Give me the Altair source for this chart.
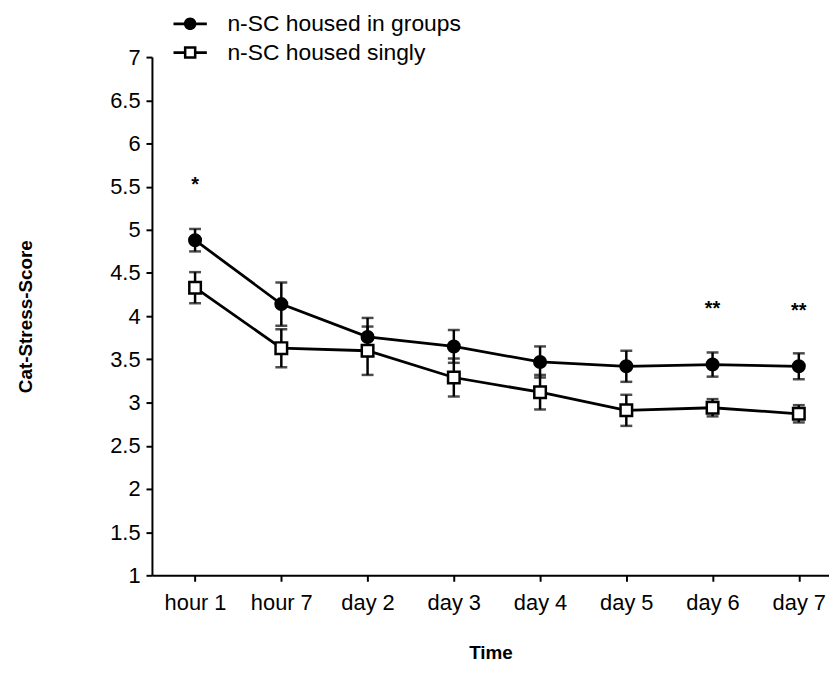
import json
import altair as alt
import pandas as pd

# ---- data ----
categories = ["hour 1", "hour 7", "day 2", "day 3", "day 4", "day 5", "day 6", "day 7"]
series_names = ["n-SC housed in groups", "n-SC housed singly"]
group_mean = [4.88, 4.14, 3.76, 3.65, 3.47, 3.42, 3.44, 3.42]
group_err = [0.13, 0.25, 0.22, 0.19, 0.18, 0.18, 0.14, 0.15]
single_mean = [4.33, 3.63, 3.60, 3.29, 3.12, 2.91, 2.94, 2.87]
single_err = [0.18, 0.22, 0.28, 0.22, 0.20, 0.18, 0.10, 0.10]
sig_text = ["*", "", "", "", "", "", "**", "**"]
sig_y = [5.56, None, None, None, None, None, 4.13, 4.10]
y_ticks = [1, 1.5, 2, 2.5, 3, 3.5, 4, 4.5, 5, 5.5, 6, 6.5, 7]

FONT = "Liberation Sans"

rows = []
for i, cat in enumerate(categories):
    rows.append({"idx": i, "time": cat, "series": series_names[0],
                 "mean": group_mean[i], "err": group_err[i]})
    rows.append({"idx": i, "time": cat, "series": series_names[1],
                 "mean": single_mean[i], "err": single_err[i]})
df = pd.DataFrame(rows)
df["lo"] = df["mean"] - df["err"]
df["hi"] = df["mean"] + df["err"]

sig_df = pd.DataFrame({"idx": list(range(len(categories))), "text": sig_text, "y": sig_y}).dropna()

label_expr = json.dumps(categories) + "[datum.value]"

x_enc = alt.X("idx:Q",
              scale=alt.Scale(domain=[-0.5, 7.35], nice=False, zero=False),
              axis=alt.Axis(values=list(range(len(categories))), labelExpr=label_expr,
                            title="Time", grid=False, titleY=69))
y_scale = alt.Scale(domain=[1, 7], nice=False, zero=False)
y_enc = alt.Y("mean:Q", scale=y_scale,
              axis=alt.Axis(values=y_ticks, format="~g", title="Cat-Stress-Score",
                            grid=False, titleX=-127, titleBaseline="middle"))

base = alt.Chart(df)

lines = base.mark_line(color="black", strokeWidth=2.8).encode(
    x=x_enc, y=y_enc, detail="series:N")

rules = base.mark_rule(color="black", strokeWidth=2.5).encode(
    x="idx:Q", y=alt.Y("lo:Q", scale=y_scale), y2="hi:Q")

cap_lo = base.mark_tick(color="black", orient="horizontal", size=12, thickness=2.5).encode(
    x="idx:Q", y=alt.Y("lo:Q", scale=y_scale))
cap_hi = base.mark_tick(color="black", orient="horizontal", size=12, thickness=2.5).encode(
    x="idx:Q", y=alt.Y("hi:Q", scale=y_scale))

pts_group = base.transform_filter(alt.datum.series == series_names[0]).mark_point(
    shape="circle", filled=True, color="black", size=200, opacity=1).encode(
    x="idx:Q", y=alt.Y("mean:Q", scale=y_scale))

pts_single = base.transform_filter(alt.datum.series == series_names[1]).mark_point(
    shape="square", filled=True, fill="white", stroke="black", strokeWidth=2.5,
    size=135, opacity=1).encode(
    x="idx:Q", y=alt.Y("mean:Q", scale=y_scale))

# legend glyphs: line segment + marker, drawn as filled outlines (units of 6 px)
seg = "M-2.8,-0.22H-0.9V0.22H-2.8ZM0.9,-0.22H2.8V0.22H0.9Z"
circle_path = "M-1.05,0A1.05,1.05 0 1,1 1.05,0A1.05,1.05 0 1,1 -1.05,0Z" + seg
square_path = ("M-1.05,-1.05H1.05V1.05H-1.05Z"
               "M-0.63,-0.63V0.63H0.63V-0.63Z"
               "M-2.8,-0.22H-1.05V0.22H-2.8ZM1.05,-0.22H2.8V0.22H1.05Z")

legend_layer = base.mark_point(opacity=0, filled=True, color="black").encode(
    x="idx:Q", y=alt.Y("mean:Q", scale=y_scale),
    shape=alt.Shape("series:N",
                    scale=alt.Scale(domain=series_names, range=[circle_path, square_path]),
                    legend=alt.Legend(title=None, orient="none", legendX=27, legendY=-45,
                                      symbolSize=144, symbolFillColor="black",
                                      symbolStrokeWidth=0, symbolOpacity=1,
                                      labelOffset=26, labelFontSize=23, labelFont=FONT,
                                      labelColor="black", rowPadding=5, padding=0,
                                      labelLimit=400)),
)

sig = alt.Chart(sig_df).mark_text(fontSize=20, fontWeight="bold", font=FONT, color="black",
                                  baseline="middle", dy=4).encode(
    x="idx:Q", y=alt.Y("y:Q", scale=y_scale), text="text:N")

chart = alt.layer(lines, rules, cap_lo, cap_hi, pts_group, pts_single, legend_layer, sig).properties(
    width=682, height=522,
    autosize=alt.AutoSizeParams(type="none"),
    padding={"left": 145, "top": 47, "right": 0, "bottom": 100},
).configure_view(stroke=None).configure_axis(
    domainColor="black", domainWidth=2, tickColor="black", tickWidth=2, tickSize=6,
    labelFont=FONT, labelFontSize=22, labelColor="black", labelPadding=6,
    titleFont=FONT, titleFontSize=19, titleFontWeight="bold", titleColor="black",
).configure_axisBottom(labelPadding=11)

chart.save("out.html", embed_options={"renderer": "svg", "actions": False})
